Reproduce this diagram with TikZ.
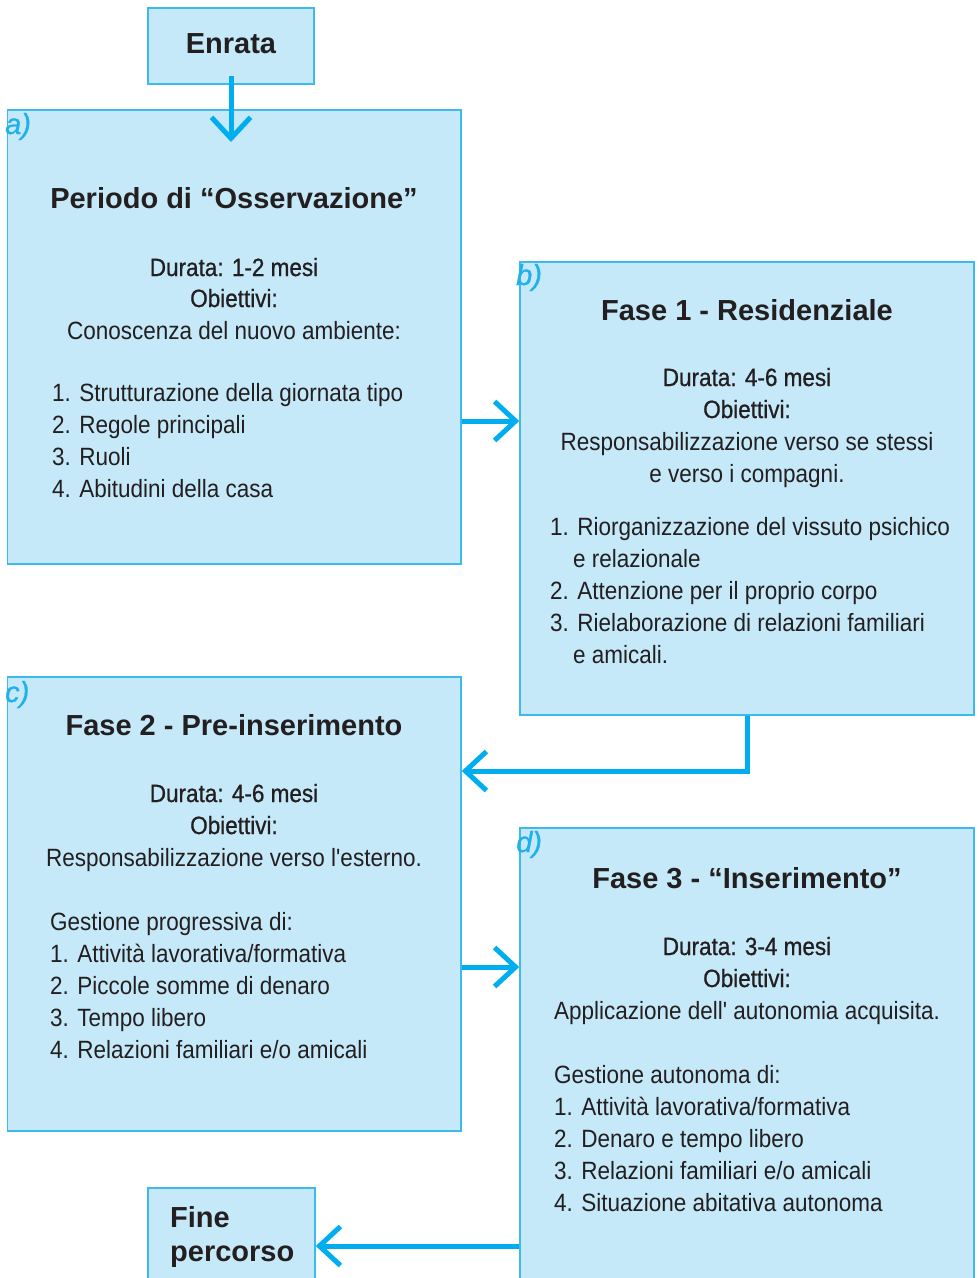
\documentclass[tikz,border=0pt]{standalone}
\usepackage{fontspec}
\setmainfont{Liberation Sans}
\newfontfamily\cond[FakeStretch=0.9]{Liberation Sans}
\newfontfamily\condmed[FakeStretch=0.9,FakeBold=0.8]{Liberation Sans}
\newfontfamily\labfont[FakeBold=0.9]{Liberation Sans}
\usetikzlibrary{arrows.meta}
\definecolor{boxfill}{HTML}{C6E9F9}
\definecolor{boxline}{HTML}{3DBAEB}
\definecolor{arrc}{HTML}{00AEEF}
\definecolor{txt}{HTML}{231F20}
\definecolor{labc}{HTML}{1FB1EC}
\tikzset{
  box/.style={draw=boxline, fill=boxfill, line width=1.5pt, inner sep=0pt},
  body/.style={font=\cond\fontsize{25}{30}\selectfont, text=txt, inner sep=0pt},
  cl/.style={body, anchor=base},
  ll/.style={body, anchor=base west},
  med/.style={font=\condmed\fontsize{25}{30}\selectfont, text=txt, inner sep=0pt, anchor=base},
  ttl/.style={font=\bfseries\fontsize{29}{34}\selectfont, text=txt, inner sep=0pt, anchor=base},
  lab/.style={font=\labfont\itshape\fontsize{29}{34}\selectfont, text=labc, inner sep=0pt, anchor=base west},
  arr/.style={draw=arrc, line width=5pt, -{Straight Barb[length=21pt,width=39pt]}},
}
\begin{document}
\begin{tikzpicture}[x=1pt,y=-1pt]
\useasboundingbox (0,0) rectangle (979,1278);
\clip (0,0) rectangle (979,1278);
% boxes
\node[box, minimum width=166, minimum height=76] (enrata) at (231,46) {};
\node[box, minimum width=453.5, minimum height=454] (a) at (234.25,337) {};
\node[box, minimum width=454, minimum height=453] (b) at (747,488.5) {};
\node[box, minimum width=453.5, minimum height=454] (c) at (234.25,904) {};
\node[box, minimum width=454, minimum height=470] (d) at (747,1063) {};
\node[box, minimum width=167, minimum height=110] (fine) at (231.5,1243) {};
% labels
\node[lab] (la) at (5,134) {a)};
\node[lab] (lb) at (516,285) {b)};
\node[lab] (lc) at (5,702) {c)};
\node[lab] (ld) at (516,852) {d)};
% Enrata / Fine
\node[ttl] (enratat) at (231,53) {Enrata};
\node[ttl, anchor=base west] (fine1) at (170,1227) {Fine};
\node[ttl, anchor=base west] (fine2) at (170,1261) {percorso};
% box a
\node[ttl] (at) at (234,208) {Periodo di “Osservazione”};
\node[med] (a1) at (234,276) {Durata: 1-2 mesi};
\node[med] (a2) at (234,307) {Obiettivi:};
\node[cl] (a3) at (234,339) {Conoscenza del nuovo ambiente:};
\node[ll] (a4) at (52,401) {1. Strutturazione della giornata tipo};
\node[ll] (a5) at (52,433) {2. Regole principali};
\node[ll] (a6) at (52,465) {3. Ruoli};
\node[ll] (a7) at (52,497) {4. Abitudini della casa};
% box b
\node[ttl] (bt) at (747,320) {Fase 1 - Residenziale};
\node[med] (b1) at (747,386) {Durata: 4-6 mesi};
\node[med] (b2) at (747,418) {Obiettivi:};
\node[cl] (b3) at (747,450) {Responsabilizzazione verso se stessi};
\node[cl] (b4) at (747,482) {e verso i compagni.};
\node[ll] (b5) at (550,535) {1. Riorganizzazione del vissuto psichico};
\node[ll] (b6) at (573,567) {e relazionale};
\node[ll] (b7) at (550,599) {2. Attenzione per il proprio corpo};
\node[ll] (b8) at (550,631) {3. Rielaborazione di relazioni familiari};
\node[ll] (b9) at (573,663) {e amicali.};
% box c
\node[ttl] (ct) at (234,735) {Fase 2 - Pre-inserimento};
\node[med] (c1) at (234,802) {Durata: 4-6 mesi};
\node[med] (c2) at (234,834) {Obiettivi:};
\node[cl] (c3) at (234,866) {Responsabilizzazione verso l'esterno.};
\node[ll] (c4) at (50,930) {Gestione progressiva di:};
\node[ll] (c5) at (50,962) {1. Attività lavorativa/formativa};
\node[ll] (c6) at (50,994) {2. Piccole somme di denaro};
\node[ll] (c7) at (50,1026) {3. Tempo libero};
\node[ll] (c8) at (50,1058) {4. Relazioni familiari e/o amicali};
% box d
\node[ttl] (dt) at (747,888) {Fase 3 - “Inserimento”};
\node[med] (d1) at (747,955) {Durata: 3-4 mesi};
\node[med] (d2) at (747,987) {Obiettivi:};
\node[cl] (d3) at (747,1019) {Applicazione dell' autonomia acquisita.};
\node[ll] (d4) at (554,1083) {Gestione autonoma di:};
\node[ll] (d5) at (554,1115) {1. Attività lavorativa/formativa};
\node[ll] (d6) at (554,1147) {2. Denaro e tempo libero};
\node[ll] (d7) at (554,1179) {3. Relazioni familiari e/o amicali};
\node[ll] (d8) at (554,1211) {4. Situazione abitativa autonoma};
% connectors
\coordinate (ta) at (231,142);
\coordinate (pab) at (0,421);
\coordinate (pbc) at (0,771);
\coordinate (pcd) at (0,967);
\coordinate (pdf) at (0,1246);
\draw[arr] ([yshift=9pt]enrata.south) -- (ta);
\draw[arr] (a.east |- pab) -- (b.west |- pab);
\draw[arr] (b.south) |- (c.east |- pbc);
\draw[arr] (c.east |- pcd) -- (d.west |- pcd);
\draw[arr] (d.west |- pdf) -- (fine.east |- pdf);
\end{tikzpicture}
\end{document}
